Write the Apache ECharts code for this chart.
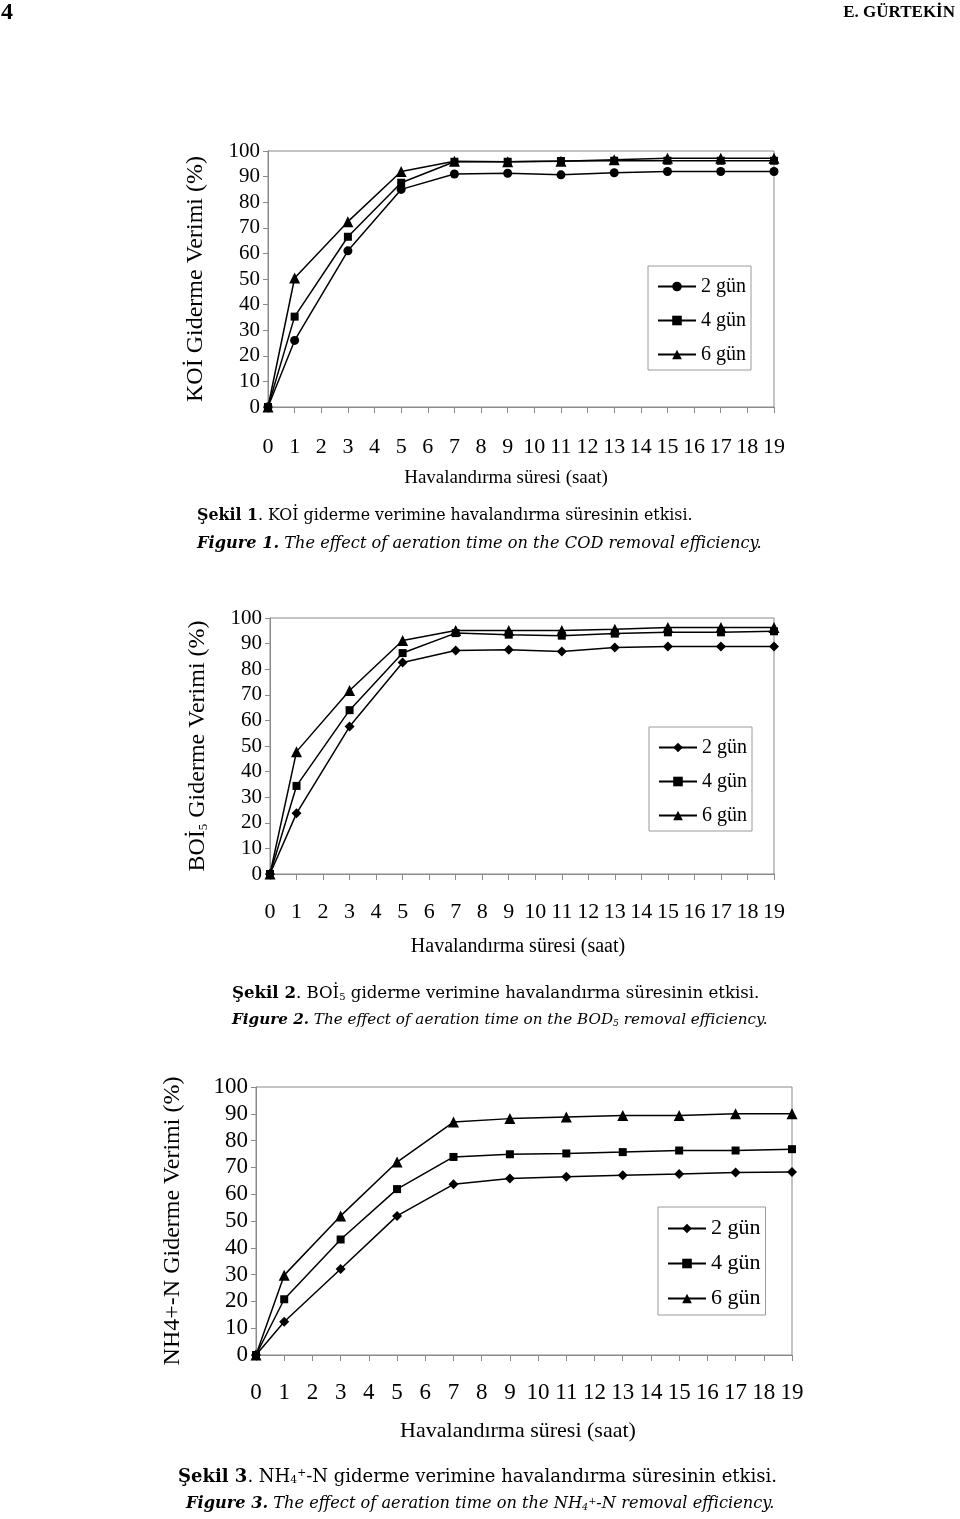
<!DOCTYPE html>
<html>
<head>
<meta charset="utf-8">
<title>Havalandırma süresi</title>
<script src="https://cdn.jsdelivr.net/npm/echarts@6/dist/echarts.min.js"></script>
<style>
  html, body { margin: 0; padding: 0; background: #fff; }
  #chart { width: 960px; height: 1519px; }
</style>
</head>
<body>
<div id="chart"></div>
<script>
// ölçüm saatleri (saat)
const hours = [0, 1, 3, 5, 7, 9, 11, 13, 15, 17, 19]
const legendNames = ['2 gün', '4 gün', '6 gün']

// Şekil 1 - KOİ giderme verimi (%)
const koi2 = [0, 26, 61, 85, 91, 91.3, 90.7, 91.5, 92, 92, 92]
const koi4 = [0, 35.3, 66.5, 87.6, 95.8, 95.8, 96.1, 96.2, 96.2, 96.2, 96.2]
const koi6 = [0, 50.4, 72.4, 92, 96, 95.8, 96, 96.6, 97.2, 97.2, 97.2]

// Şekil 2 - BOİ5 giderme verimi (%)
const boi2 = [0, 23.7, 57.6, 82.6, 87.3, 87.6, 86.9, 88.5, 88.9, 88.9, 88.9]
const boi4 = [0, 34.4, 64, 86.3, 94.1, 93.5, 93.1, 93.9, 94.4, 94.4, 94.8]
const boi6 = [0, 47.8, 71.7, 91.2, 95.1, 95.1, 95.1, 95.6, 96.3, 96.3, 96.3]

// Şekil 3 - NH4+-N giderme verimi (%)
const nh2 = [0, 12.4, 32.1, 51.9, 63.7, 65.9, 66.5, 67.1, 67.5, 68.1, 68.3]
const nh4 = [0, 20.8, 43.1, 61.9, 73.9, 74.9, 75.2, 75.7, 76.3, 76.3, 76.8]
const nh6 = [0, 29.8, 51.9, 72, 86.9, 88.2, 88.8, 89.4, 89.4, 90, 90]

// eksen aralıkları
const xMin = 0, xMax = 19, xStep = 1
const yMin = 0, yMax = 100, yStep = 10

const serif = "'Liberation Serif', 'Times New Roman', serif"
const book = "'DejaVu Serif', serif"

function pairs(vals) {
  return hours.map((h, i) => [h, vals[i]])
}

// her panelin yerleşimi
const panels = [
  {
    grid: { left: 268, top: 151, width: 506, height: 256 },
    yName: 'KOİ Giderme Verimi (%)', yGap: 60,
    series: [koi2, koi4, koi6],
    symbols: ['circle', 'rect', 'triangle'],
    legend: { left: 648, top: 266 }, legendGap: 13,
    font: 20, yFont: 21, xFont: 22, labelMargin: 29,
    nameFont: 19, nameGap: 62, nameShift: 30
  },
  {
    grid: { left: 270, top: 618, width: 504, height: 256 },
    yName: 'BOİ{sub|5} Giderme Verimi (%)', yGap: 60,
    series: [boi2, boi4, boi6],
    symbols: ['diamond', 'rect', 'triangle'],
    legend: { left: 649, top: 727 }, legendGap: 13,
    font: 20, yFont: 21, xFont: 22, labelMargin: 27,
    nameFont: 20, nameGap: 63, nameShift: 8
  },
  {
    grid: { left: 256, top: 1087, width: 536, height: 268 },
    yName: 'NH4+-N Giderme Verimi (%)', yGap: 71,
    series: [nh2, nh4, nh6],
    symbols: ['diamond', 'rect', 'triangle'],
    legend: { left: 658, top: 1207 }, legendGap: 12,
    font: 22, yFont: 23, xFont: 23, labelMargin: 26,
    nameFont: 22, nameGap: 65, nameShift: 12
  }
]

const symbolSizes = { circle: 9, rect: 8, triangle: 11, diamond: 10 }

const grid = [], xAxis = [], yAxis = [], legend = [], series = []

panels.forEach((p, i) => {
  grid.push(Object.assign({ show: true, borderColor: '#8a8a8a', borderWidth: 1, backgroundColor: '#fff' }, p.grid))

  xAxis.push({
    type: 'value', gridIndex: i,
    min: xMin, max: xMax, interval: xStep,
    name: 'Havalandırma süresi (saat)',
    nameLocation: 'middle', nameGap: p.nameGap,
    nameTextStyle: { fontFamily: serif, fontSize: p.nameFont, color: '#000', padding: [0, p.nameShift, 0, 0] },
    axisLine: { show: true, lineStyle: { color: '#8a8a8a' } },
    axisTick: { show: true, length: 6, lineStyle: { color: '#8a8a8a' } },
    axisLabel: { fontFamily: serif, fontSize: p.xFont, color: '#000', margin: p.labelMargin },
    splitLine: { show: false }
  })

  yAxis.push({
    type: 'value', gridIndex: i,
    min: yMin, max: yMax, interval: yStep,
    name: p.yName,
    nameLocation: 'middle', nameRotate: 90, nameGap: p.yGap,
    nameTextStyle: {
      fontFamily: serif, fontSize: 24, color: '#000',
      rich: { sub: { fontFamily: serif, fontSize: 13, verticalAlign: 'bottom', color: '#000' } }
    },
    axisLine: { show: true, lineStyle: { color: '#8a8a8a' } },
    axisTick: { show: true, length: 5, lineStyle: { color: '#8a8a8a' } },
    axisLabel: { fontFamily: serif, fontSize: p.yFont, color: '#000', margin: 8 },
    splitLine: { show: false }
  })

  legend.push({
    orient: 'vertical',
    left: p.legend.left, top: p.legend.top,
    data: legendNames.map(n => n + '#' + i),
    formatter: n => n.split('#')[0],
    itemWidth: 38, itemHeight: 12, itemGap: p.legendGap,
    padding: [10, 5, 5, 9],
    borderColor: '#9a9a9a', borderWidth: 1,
    textStyle: { fontFamily: serif, fontSize: p.font, color: '#000', lineHeight: p.font + 1 },
    selectedMode: false
  })

  p.series.forEach((vals, k) => {
    const sym = p.symbols[k]
    series.push({
      name: legendNames[k] + '#' + i,
      type: 'line',
      xAxisIndex: i, yAxisIndex: i,
      data: pairs(vals),
      symbol: sym,
      symbolSize: symbolSizes[sym],
      showAllSymbol: true,
      color: '#000',
      itemStyle: { color: '#000' },
      lineStyle: { color: '#000', width: 1.5 }
    })
  })
})

// şekil altyazıları: Türkçe satır düz, İngilizce satır italik
function caption(left, top, sizeTr, sizeEn, tr, en, enLeft) {
  const rich = (size, italic) => ({
    b: { fontFamily: book, fontSize: size, fontWeight: 'bold', fontStyle: italic, fill: '#000' },
    sub: { fontFamily: book, fontSize: size * 0.6, fontStyle: italic, verticalAlign: 'bottom', fill: '#000' },
    sup: { fontFamily: book, fontSize: size * 0.6, fontStyle: italic, verticalAlign: 'top', fill: '#000' }
  })
  return [
    {
      type: 'text', left: left, top: top,
      style: { text: tr, fill: '#000', fontFamily: book, fontSize: sizeTr, rich: rich(sizeTr, 'normal') }
    },
    {
      type: 'text', left: enLeft || left, top: top + 28,
      style: { text: en, fill: '#000', fontFamily: book, fontSize: sizeEn, fontStyle: 'italic', rich: rich(sizeEn, 'italic') }
    }
  ]
}

const graphic = [
  { type: 'text', left: 1, top: 1, style: { text: '4', fontFamily: serif, fontSize: 24, fontWeight: 'bold', fill: '#000' } },
  { type: 'text', right: 5, top: 4, style: { text: 'E. GÜRTEKİN', fontFamily: serif, fontSize: 17, fontWeight: 'bold', fill: '#000' } }
].concat(
  caption(197, 508, 15.8, 16.2,
    '{b|Şekil 1}. KOİ giderme verimine havalandırma süresinin etkisi.',
    '{b|Figure 1.} The effect of aeration time on the COD removal efficiency.'),
  caption(232, 985, 16.6, 15.2,
    '{b|Şekil 2}. BOİ{sub|5} giderme verimine havalandırma süresinin etkisi.',
    '{b|Figure 2.} The effect of aeration time on the BOD{sub|5} removal efficiency.'),
  caption(178, 1468, 18, 16.2,
    '{b|Şekil 3}. NH{sub|4}{sup|+}-N giderme verimine havalandırma süresinin etkisi.',
    '{b|Figure 3.} The effect of aeration time on the NH{sub|4}{sup|+}-N removal efficiency.', 186)
)

const chart = echarts.init(document.getElementById('chart'), null, { renderer: 'canvas' })
chart.setOption({
  backgroundColor: '#fff',
  animation: false,
  grid: grid,
  xAxis: xAxis,
  yAxis: yAxis,
  legend: legend,
  series: series,
  graphic: graphic
})
</script>
</body>
</html>
